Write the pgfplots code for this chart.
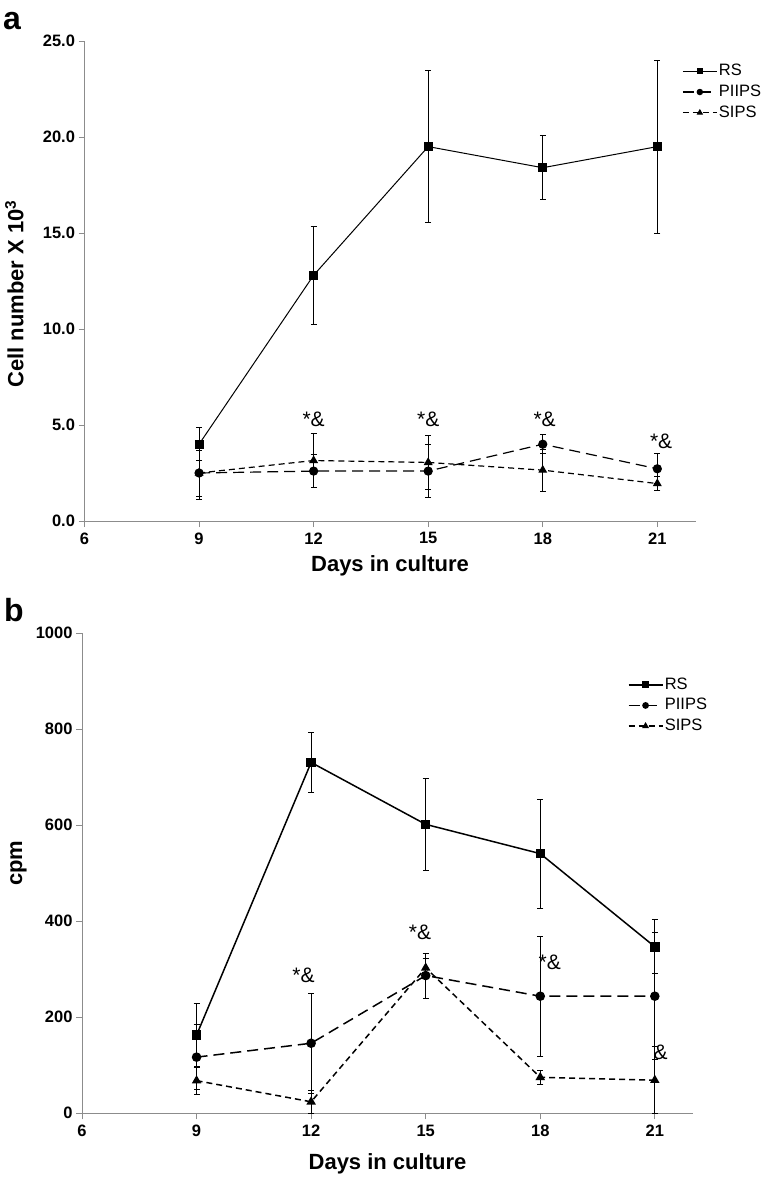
\documentclass[border=0pt]{standalone}
\usepackage{fontspec}
\setmainfont{Liberation Sans}
\usepackage{pgfplots}
\pgfplotsset{compat=1.18}
\definecolor{axgray}{HTML}{8C8C8C}
\pgfplotsset{
  panel/.style={
    anchor=south west, scale only axis, width=611pt, height=480pt,
    xmin=6, xmax=22, ymin=0,
    axis x line*=bottom, axis y line*=left,
    axis line style={draw=axgray, line width=0.9pt, -},
    xtick={6,9,12,15,18,21},
    tick align=outside, major tick length=6pt,
    tick style={draw=axgray, line width=0.9pt},
    /pgf/number format/assume math mode=true,
    /pgf/number format/1000 sep={},
    scaled y ticks=false,
    ticklabel style={font=\fontsize{16.5}{18}\selectfont\bfseries},
    xticklabel style={yshift=-2pt},
    label style={font=\fontsize{22}{24}\selectfont\bfseries},
    legend cell align=left,
    clip=false,
  },
  limg/.style={/pgfplots/legend image code/.code={\draw[mark repeat=2,mark phase=2,##1,mark size=2.6pt] plot coordinates {(0pt,0pt) (17pt,0pt) (34pt,0pt)};}},
  ebar/.style={/pgfplots/error bars/.cd, y dir=both, y explicit,
    error bar style={line width=0.8pt, solid, black},
    error mark options={rotate=90, mark size=3pt, line width=0.8pt, black, solid}, /pgfplots/.cd},
}
\begin{document}
\begin{tikzpicture}
\useasboundingbox (0pt,0pt) rectangle (772pt,-1181pt);
% ---------------- panel a
\begin{axis}[panel, at={(84.5pt,-521pt)}, ymax=25,
  ytick={0,5,10,15,20,25},
  yticklabel style={/pgf/number format/.cd, fixed, fixed zerofill, precision=1},
  xlabel={Days in culture},
  xlabel style={at={(axis description cs:0.5,-0.093)}, anchor=center},
  ylabel={Cell number X 10\textsuperscript{3}},
  ylabel style={at={(axis description cs:-0.1,0.473)}, anchor=base},
  legend style={at={(axis description cs:0.978,0.956)}, anchor=north west,
    draw=none, fill=none, inner sep=0pt, row sep=2.7pt,
    font=\fontsize{16.5}{18}\selectfont,
    nodes={inner sep=1.5pt, text height=12pt, text depth=3pt}},
]
\addplot+[limg, black, line width=1pt, solid, mark=square*, mark size=4pt, mark options={solid, fill=black}, ebar]
  coordinates {(9,4.0) +- (0,0.85) (12,12.8) +- (0,2.57) (15,19.5) +- (0,3.97) (18,18.4) +- (0,1.67) (21,19.5) +- (0,4.5)};
\addlegendentry{RS}
\addplot+[limg, black, line width=1.2pt, dash pattern=on 11pt off 6pt, mark=*, mark size=4pt, mark options={solid, fill=black}, ebar]
  coordinates {(9,2.5) +- (0,1.2) (12,2.6) +- (0,0.85) (15,2.6) +- (0,1.37) (18,4.0) +- (0,0.5) (21,2.72) +- (0,0.78)};
\addlegendentry{PIIPS}
\addplot+[limg, black, line width=1.2pt, dash pattern=on 6pt off 4pt, mark=triangle*, mark size=4pt, mark options={solid, fill=black}, ebar]
  coordinates {(9,2.5) +- (0,1.37) (12,3.15) +- (0,1.4) (15,3.05) +- (0,1.4) (18,2.65) +- (0,1.1) (21,1.95) +- (0,0.36)};
\addlegendentry{SIPS}
\node[font=\fontsize{21}{21}\selectfont] at (axis cs:12,5.27) {*\&};
\node[font=\fontsize{21}{21}\selectfont] at (axis cs:15,5.27) {*\&};
\node[font=\fontsize{21}{21}\selectfont] at (axis cs:18.05,5.27) {*\&};
\node[font=\fontsize{21}{21}\selectfont] at (axis cs:21.1,4.16) {*\&};
\end{axis}
% ---------------- panel b
\begin{axis}[panel, at={(82pt,-1113.3pt)}, ymax=1000,
  ytick={0,200,400,600,800,1000},
  xlabel={Days in culture},
  xlabel style={at={(axis description cs:0.5,-0.105)}, anchor=center},
  ylabel={cpm},
  ylabel style={at={(axis description cs:-0.098,0.521)}, anchor=base},
  legend style={at={(axis description cs:0.893,0.912)}, anchor=north west,
    draw=none, fill=none, inner sep=0pt, row sep=2.7pt,
    font=\fontsize{16.5}{18}\selectfont,
    nodes={inner sep=1.5pt, text height=12pt, text depth=3pt}},
]
\addplot+[limg, black, line width=1.5pt, solid, mark=square*, mark size=4pt, mark options={solid, fill=black}, ebar]
  coordinates {(9,163) +- (0,65) (12,731) +- (0,62) (15,602) +- (0,96) (18,541) +- (0,114) (21,347) +- (0,56)};
\addlegendentry{RS}
\addplot+[limg, black, line width=1.5pt, dash pattern=on 11pt off 6pt, mark=*, mark size=4pt, mark options={solid, fill=black}, ebar]
  coordinates {(9,117) +- (0,68) (12,146) +- (0,104) (15,287) +- (0,47) (18,244) +- (0,125) (21,244) +- (0,132)};
\addlegendentry{PIIPS}
\addplot+[limg, black, line width=1.5pt, dash pattern=on 6pt off 4pt, mark=triangle*, mark size=4pt, mark options={solid, fill=black}, ebar]
  coordinates {(9,68) +- (0,28) (12,24) +- (0,24) (15,303) +- (0,20) (18,75) +- (0,15) (21,69) +- (0,70)};
\addlegendentry{SIPS}
\node[font=\fontsize{21}{21}\selectfont] at (axis cs:11.8,287) {*\&};
\node[font=\fontsize{21}{21}\selectfont] at (axis cs:14.85,378) {*\&};
\node[font=\fontsize{21}{21}\selectfont] at (axis cs:18.25,315) {*\&};
\node[font=\fontsize{21}{21}\selectfont] at (axis cs:21.15,127) {\&};
\end{axis}
\node[anchor=base west, inner sep=0pt, font=\fontsize{32}{32}\selectfont\bfseries] at (3pt,-29.3pt) {a};
\node[anchor=base west, inner sep=0pt, font=\fontsize{32}{32}\selectfont\bfseries] at (4pt,-621pt) {b};
\end{tikzpicture}
\end{document}
